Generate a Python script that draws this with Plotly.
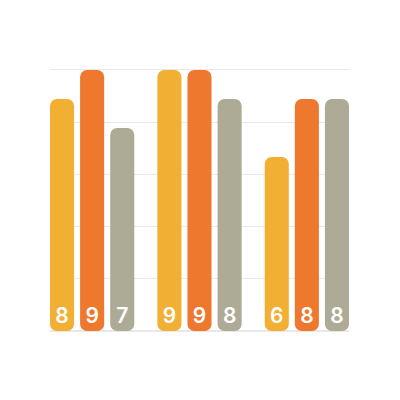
import plotly.graph_objects as go

# data
groups = ["A", "B", "C"]
series_values = [
    [8, 9, 6],
    [9, 9, 8],
    [7, 8, 8],
]
series_colors = ["#F1B034", "#EE782E", "#ADAA95"]
grid_ticks = [0, 1.8, 3.6, 5.4, 7.2, 9]

# geometry (in category units: one group slot = 1)
bar_w = 24 / 107
step = 30 / 107
first_offset = -42 / 107

fig = go.Figure()

for i, (vals, color) in enumerate(zip(series_values, series_colors)):
    fig.add_trace(go.Bar(
        x=groups,
        y=vals,
        base=[0] * len(vals),  # an explicit base rounds both ends
        width=bar_w, offset=first_offset + i * step,
        marker=dict(color=color, cornerradius=7, line=dict(width=0)),
        text=[str(v) for v in vals],
        textposition="inside",
        insidetextanchor="start",
        textangle=0,
        constraintext="none",
        textfont=dict(color="white", size=21, family="Inter", weight=600),
        hoverinfo="skip", showlegend=False,
    ))

# the page body has an 8px default margin, so the margins are shifted by 8
fig.update_layout(
    width=400, height=400,
    margin=dict(l=42, r=59, t=59, b=77),
    barmode="overlay",
    plot_bgcolor="white",
    paper_bgcolor="white",
    xaxis=dict(
        range=[-0.3925, 2.3925],
        showticklabels=False, showgrid=False, zeroline=False,
        showline=False, ticks="",
    ),
    yaxis=dict(
        range=[0, 9.1],
        tickvals=grid_ticks,
        showticklabels=False,
        showgrid=True, gridcolor="#E8E8EA", gridwidth=1,
        zeroline=True, zerolinecolor="#E8E8EA", zerolinewidth=2,
        ticks="",
    ),
)

fig.write_html("out.html")
